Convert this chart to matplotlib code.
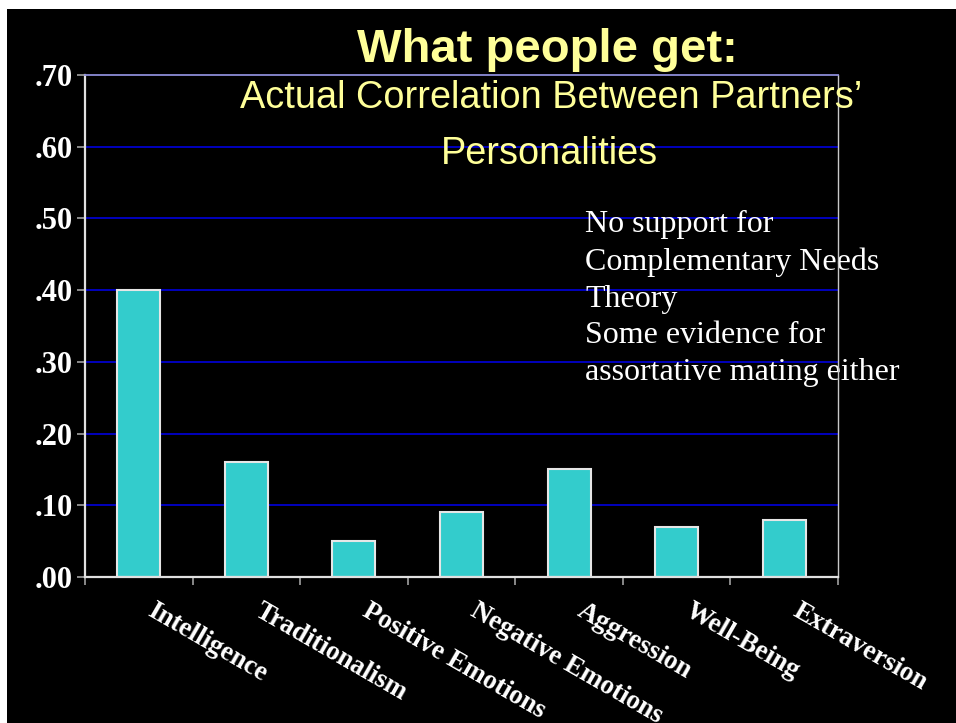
import numpy as np
import matplotlib
matplotlib.use("Agg")
import matplotlib.pyplot as plt
from matplotlib.patches import Rectangle
from matplotlib.transforms import offset_copy

# Correlations between partners on each trait
traits = ["Intelligence", "Traditionalism", "Positive Emotions",
          "Negative Emotions", "Aggression", "Well-Being", "Extraversion"]
correlations = [0.40, 0.16, 0.05, 0.09, 0.15, 0.07, 0.08]
y_ticks = [0.0, 0.1, 0.2, 0.3, 0.4, 0.5, 0.6, 0.7]
y_labels = [".00", ".10", ".20", ".30", ".40", ".50", ".60", ".70"]

note_lines = ["No support for", "Complementary Needs", "Theory",
              "Some evidence for", "assortative mating either"]

serif = "Liberation Serif"
sans = "Liberation Sans"
yellow = "#FFFF99"

fig = plt.figure(figsize=(9.56, 7.23), dpi=100, facecolor="white")
# black slide area with a thin white strip on the top and left
fig.patches.append(Rectangle((7 / 956, 0), 1, 1 - 9 / 723, transform=fig.transFigure,
                             facecolor="black", edgecolor="none", zorder=-5))

ax = fig.add_axes([85 / 956, 1 - 577 / 723, 753 / 956, 502 / 723])
ax.set_facecolor("black")

x = np.arange(len(traits))
ax.bar(x, correlations, width=0.4, color="#33CCCC", edgecolor="#E6E6E6",
       linewidth=1.5, zorder=3)

ax.set_xlim(-0.5, len(traits) - 0.5)
ax.set_ylim(0, 0.70)

# horizontal grid lines
for t in y_ticks[1:-1]:
    ax.axhline(t, color="#0000CC", linewidth=1.3, zorder=1)

ax.set_yticks(y_ticks)
ax.set_yticklabels(y_labels, fontfamily=serif, fontweight="bold", fontsize=22, color="white")
ax.tick_params(axis="y", length=6, width=1.2, color="#A0A0A0", pad=3)

# x ticks sit on the category boundaries
ax.set_xticks(np.arange(len(traits) + 1) - 0.5)
ax.set_xticklabels([])
ax.tick_params(axis="x", length=6, width=1.2, color="#A0A0A0")

for name, sp in ax.spines.items():
    sp.set_zorder(4)
ax.spines["left"].set_color("#E0E0E0")
ax.spines["left"].set_linewidth(1.6)
ax.spines["bottom"].set_color("#E0E0E0")
ax.spines["bottom"].set_linewidth(1.6)
ax.spines["right"].set_color("#C8C8C8")
ax.spines["right"].set_linewidth(1.0)
ax.spines["top"].set_color("#8C8CD8")
ax.spines["top"].set_linewidth(1.3)

# slanted category labels below the axis
label_tr = offset_copy(ax.get_xaxis_transform(), fig=fig, x=12, y=-15.5, units="points")
for xi, name in zip(x, traits):
    ax.text(xi, 0, name, transform=label_tr, rotation=-30, rotation_mode="anchor",
            ha="left", va="top", fontfamily=serif, fontweight="bold", fontsize=19.5,
            color="white", clip_on=False)

# notes inside the plot, under the right frame line
ax.text(585 / 956, 1 - 210 / 723, "\n".join(note_lines), transform=fig.transFigure,
        ha="left", va="top", fontfamily=serif, fontsize=23, color="white",
        linespacing=1.36, zorder=2, clip_on=False)

# titles
fig.text(547 / 956, 1 - 62 / 723, "What people get:", ha="center", va="baseline",
         fontfamily=sans, fontweight="bold", fontsize=34, color=yellow)
fig.text(551 / 956, 1 - 108 / 723, "Actual Correlation Between Partners\u2019",
         ha="center", va="baseline", fontfamily=sans, fontsize=27.3, color=yellow)
fig.text(549 / 956, 1 - 164 / 723, "Personalities",
         ha="center", va="baseline", fontfamily=sans, fontsize=27.3, color=yellow)

fig.savefig("out.png", dpi=100, facecolor=fig.get_facecolor())
